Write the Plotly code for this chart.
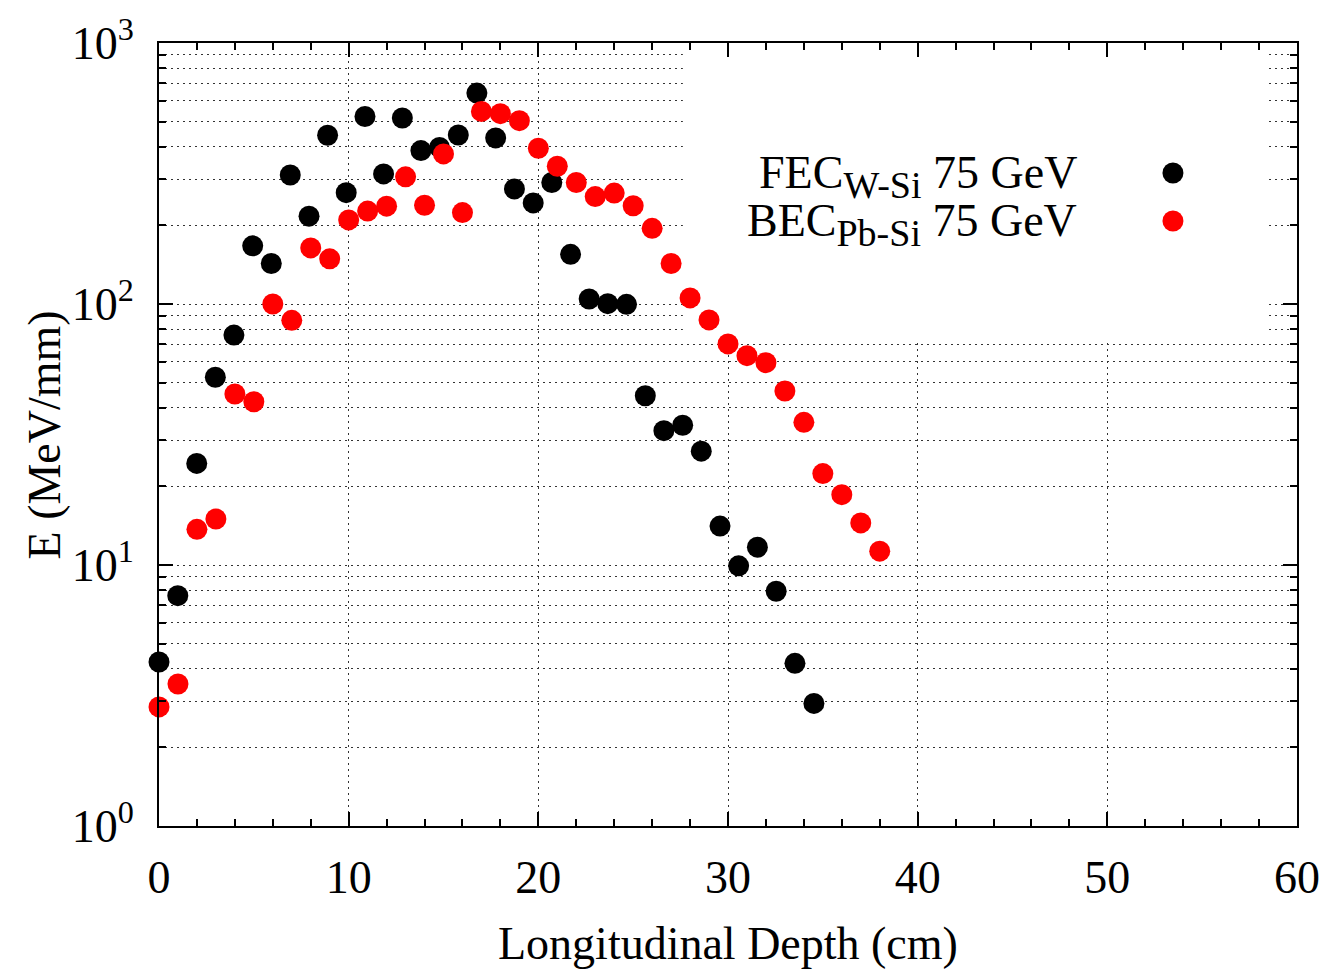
import plotly.graph_objects as go

# FEC (W-Si) 75 GeV
fec_depth = [0, 0.99, 1.99, 2.97, 3.95, 4.94, 5.92, 6.92, 7.91, 8.89, 9.87, 10.86,
             11.84, 12.83, 13.81, 14.79, 15.78, 16.76, 17.75, 18.74, 19.73, 20.71,
             21.70, 22.68, 23.66, 24.65, 25.64, 26.62, 27.61, 28.59, 29.58, 30.56,
             31.55, 32.54, 33.53, 34.53]
fec_energy = [4.25, 7.63, 24.5, 52.4, 76.0, 167, 143, 312, 217, 443, 267, 523,
              315, 516, 387, 398, 444, 643, 433, 276, 244, 292,
              155, 104.5, 100.3, 99.7, 44.5, 32.7, 34.3, 27.3, 14.1, 9.93,
              11.7, 7.93, 4.20, 2.95]

# BEC (Pb-Si) 75 GeV
bec_depth = list(range(0, 39))
bec_energy = [2.86, 3.50, 13.7, 15.0, 45.2, 42.2, 100, 86.6, 164, 149, 210, 227,
              237, 307, 239, 376, 224, 547, 536, 504, 395, 337, 292, 258, 266,
              238, 195, 143, 105.5, 86.9, 70.3, 63.4, 59.6, 46.4, 35.2, 22.4,
              18.6, 14.5, 11.3]

SUB = "<sub><span style='font-size:38px'>{}</span></sub>"
series_names = ["FEC" + SUB.format("W-Si") + " 75 GeV",
                "BEC" + SUB.format("Pb-Si") + " 75 GeV"]
series_colors = ["#000000", "#ff0000"]

y_tickvals = [1, 10, 100, 1000]
y_ticktext = ["10<sup>0</sup>", "10<sup>1</sup>", "10<sup>2</sup>", "10<sup>3</sup>"]
x_tickvals = [0, 10, 20, 30, 40, 50, 60]

FONT = "Liberation Serif, Times New Roman, serif"
FS = 46

fig = go.Figure()
for xs, ys, name, col in [(fec_depth, fec_energy, series_names[0], series_colors[0]),
                          (bec_depth, bec_energy, series_names[1], series_colors[1])]:
    fig.add_trace(go.Scatter(x=xs, y=ys, mode="markers", name=name,
                             marker=dict(color=col, size=21, line=dict(width=0)),
                             cliponaxis=False, showlegend=False))

grid_kw = dict(gridcolor="#333333", gridwidth=1, griddash="2px,4px")

fig.update_xaxes(range=[0, 60], tickvals=x_tickvals, ticks="inside", ticklen=14,
                 tickwidth=2, tickcolor="black", showline=True, linewidth=2,
                 linecolor="black", mirror="ticks", showgrid=True, zeroline=False,
                 automargin=False,
                 tickfont=dict(family=FONT, size=FS, color="black"),
                 ticklabelstandoff=10,
                 minor=dict(dtick=2, ticks="inside", ticklen=7, tickwidth=1.5,
                            tickcolor="black", showgrid=False),
                 **grid_kw)
fig.update_yaxes(type="log", range=[0, 3], tickvals=y_tickvals, ticktext=y_ticktext,
                 ticks="inside", ticklen=14, tickwidth=2, tickcolor="black",
                 showline=True, linewidth=2, linecolor="black", mirror="ticks",
                 showgrid=True, zeroline=False, automargin=False,
                 tickfont=dict(family=FONT, size=FS, color="black"),
                 ticklabelstandoff=14,
                 minor=dict(dtick="D1", ticks="inside", ticklen=7, tickwidth=1.5,
                            tickcolor="black", showgrid=True, **grid_kw),
                 **grid_kw)

# opaque key box extent (blanks the grid behind the key, as in the original)
key_x = [27.62, 58.46]
key_y = [72.8, 1000]

shapes = [
    dict(type="rect", xref="x", yref="y", x0=key_x[0], x1=key_x[1],
         y0=key_y[0], y1=key_y[1], fillcolor="white", line=dict(width=0),
         layer="between"),
]
legend_y = [0.8340, 0.7727]
for yv, col in zip(legend_y, series_colors):
    shapes.append(dict(type="circle", xref="paper", yref="paper",
                       xsizemode="pixel", ysizemode="pixel",
                       xanchor=0.8910, yanchor=yv, x0=-10.5, x1=10.5, y0=-10.5, y1=10.5,
                       fillcolor=col, line=dict(width=0), layer="above"))

annotations = []
for yv, name in zip(legend_y, series_names):
    annotations.append(dict(text=name, xref="paper", yref="paper", x=0.8085, y=yv - 0.004,
                            xanchor="right", yanchor="middle", showarrow=False,
                            font=dict(family=FONT, size=FS, color="black")))
annotations.append(dict(text="Longitudinal Depth (cm)", xref="paper", yref="paper",
                        x=0.5, y=-0.150, xanchor="center", yanchor="middle",
                        showarrow=False, font=dict(family=FONT, size=FS, color="black")))
annotations.append(dict(text="E (MeV/mm)", xref="paper", yref="paper",
                        x=-0.1002, y=0.5, xanchor="center", yanchor="middle",
                        textangle=-90, showarrow=False,
                        font=dict(family=FONT, size=FS, color="black")))

fig.update_layout(width=1327, height=969, margin=dict(l=159, r=30, t=43, b=143),
                  plot_bgcolor="white", paper_bgcolor="white",
                  shapes=shapes, annotations=annotations, showlegend=False,
                  font=dict(family=FONT, size=FS, color="black"))

fig.write_html("out.html")
